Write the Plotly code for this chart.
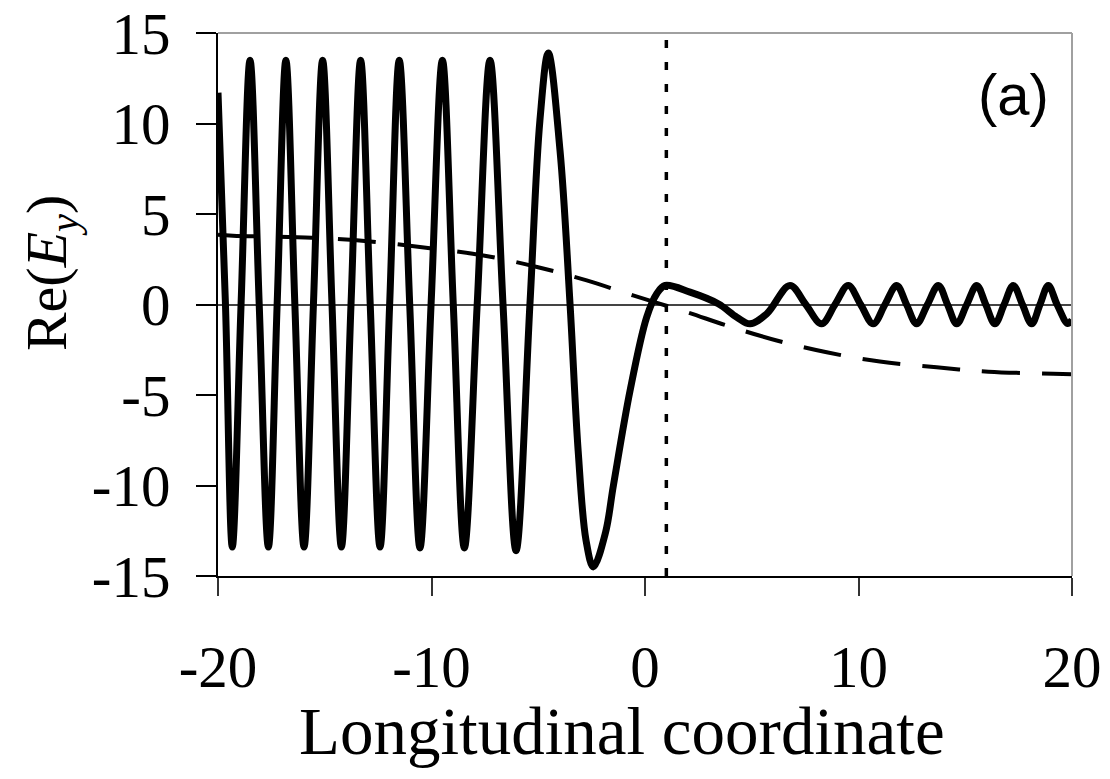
import plotly.graph_objects as go

# Solid curve: Re(E_y) key points
solid_x = [-20.0, -19.65, -19.33, -18.92, -18.50, -18.07, -17.64, -17.23, -16.82, -16.40,
           -15.97, -15.53, -15.10, -14.66, -14.22, -13.77, -13.32, -12.87, -12.41, -11.96,
           -11.51, -11.02, -10.54, -10.02, -9.49, -8.98, -8.46, -7.86, -7.26, -6.65,
           -6.04, -5.39, -4.92, -4.53, -3.98, -3.51, -3.13, -2.76, -2.42, -1.85,
           -1.48, -0.70, 0.08, 0.55, 0.94, 2.11, 3.43, 4.30, 4.92, 5.70,
           6.79, 7.53, 8.27, 8.90, 9.52, 10.10, 10.69, 11.24, 11.79, 12.25,
           12.72, 13.23, 13.74, 14.17, 14.60, 15.07, 15.54, 15.96, 16.39, 16.82,
           17.25, 17.68, 18.11, 18.50, 18.89, 19.30, 19.80, 20.0]
solid_y = [11.7, 0.0, -13.4, 0.0, 13.5, 0.0, -13.4, 0.0, 13.5, 0.0,
           -13.4, 0.0, 13.5, 0.0, -13.4, 0.0, 13.5, 0.0, -13.4, 0.0,
           13.5, 0.0, -13.45, 0.0, 13.5, 0.0, -13.45, 0.0, 13.5, 0.0,
           -13.6, 0.0, 10.2, 13.9, 8.5, 0.0, -8.1, -13.05, -14.5, -12.6,
           -10.0, -4.76, -0.7, 0.59, 1.05, 0.68, 0.04, -0.7, -1.07, -0.52,
           1.05, 0.0, -1.07, 0.0, 1.05, 0.0, -1.07, 0.0, 1.05, 0.0,
           -1.07, 0.0, 1.05, 0.0, -1.07, 0.0, 1.05, 0.0, -1.07, 0.0,
           1.05, 0.0, -1.07, 0.0, 1.05, 0.0, -1.05, -0.85]

# Dashed curve
dash_x = [-20.0, -19.3, -15.61, -12.88, -10.07, -7.57, -5.01, -2.73, -0.56, 1.95,
          3.83, 6.17, 8.51, 11.0, 13.66, 16.08, 19.12, 20.0]
dash_y = [3.85, 3.8, 3.69, 3.48, 3.11, 2.71, 2.06, 1.33, 0.5, -0.42,
          -1.16, -1.99, -2.64, -3.15, -3.47, -3.71, -3.83, -3.86]

# Vertical dotted marker position
vline_x = 1.0

x_ticks = [-20, -10, 0, 10, 20]
y_ticks = [-15, -10, -5, 0, 5, 10, 15]

SERIF = "Liberation Serif, Times New Roman, serif"

fig = go.Figure()
fig.add_trace(go.Scatter(x=dash_x, y=dash_y, mode="lines",
                         line=dict(color="black", width=4, dash="38px,22px", shape="spline"),
                         showlegend=False))
fig.add_trace(go.Scatter(x=solid_x, y=solid_y, mode="lines",
                         line=dict(color="black", width=7, shape="spline", smoothing=1.0),
                         showlegend=False))

fig.add_shape(type="line", x0=vline_x, x1=vline_x, y0=-15, y1=15, xref="x", yref="y",
              line=dict(color="black", width=3.5, dash="8px,14px"))
# top and right gray borders
fig.add_shape(type="line", x0=0, x1=1, y0=1, y1=1, xref="paper", yref="paper",
              line=dict(color="#a0a0a0", width=2))
fig.add_shape(type="line", x0=1, x1=1, y0=0, y1=1, xref="paper", yref="paper",
              line=dict(color="#a0a0a0", width=2))

fig.add_annotation(text="Longitudinal coordinate", x=0.473, y=-0.285, xref="paper", yref="paper",
                   showarrow=False, xanchor="center", yanchor="middle",
                   font=dict(family=SERIF, size=67, color="black"))
fig.add_annotation(text="Re(<i>E</i><sub><i>y</i></sub>)", x=-0.196, y=0.559, xref="paper", yref="paper",
                   showarrow=False, xanchor="center", yanchor="middle", textangle=-90,
                   font=dict(family=SERIF, size=58, color="black"))
fig.add_annotation(text="(a)", x=0.931, y=0.886, xref="paper", yref="paper",
                   showarrow=False, xanchor="center", yanchor="middle",
                   font=dict(family="Liberation Sans, Arial, sans-serif", size=58, color="black"))

fig.update_xaxes(range=[-20, 20], tickvals=x_ticks, ticktext=[str(v) for v in x_ticks],
                 showgrid=False, zeroline=False, showline=True, linecolor="black", linewidth=1.5,
                 ticks="outside", ticklen=18, tickwidth=1.5, tickcolor="#333",
                 ticklabelstandoff=20, automargin=False, ticklabeloverflow="allow",
                 tickfont=dict(family=SERIF, size=59, color="black"))
fig.update_yaxes(range=[-15, 15], tickvals=y_ticks, ticktext=[str(v) for v in y_ticks],
                 showgrid=False, zeroline=True, zerolinecolor="#444", zerolinewidth=1.5,
                 showline=True, linecolor="black", linewidth=1.5,
                 ticks="outside", ticklen=20, tickwidth=1.5, tickcolor="black",
                 ticklabelstandoff=14, automargin=False, ticklabeloverflow="allow",
                 tickfont=dict(family=SERIF, size=59, color="black"))

# The page adds an 8px body margin, so the figure is sized to sit inside the window
fig.update_layout(width=1102, height=771, margin=dict(l=210, r=38, t=25, b=203, autoexpand=False),
                  plot_bgcolor="white", paper_bgcolor="white", showlegend=False)

fig.write_html("out.html")
